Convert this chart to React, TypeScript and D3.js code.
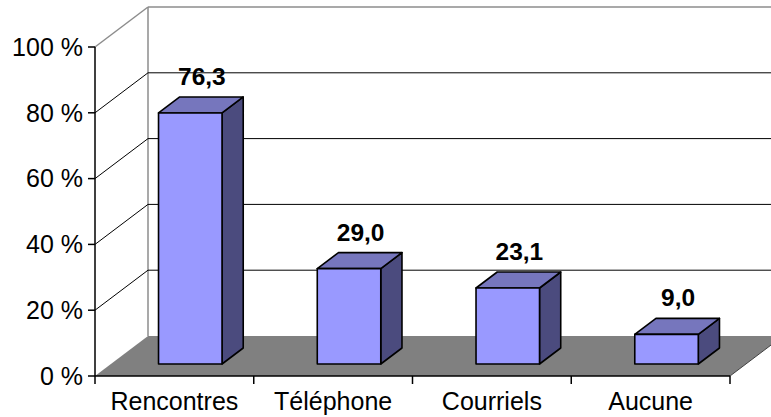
import React from "react";
import * as d3 from "d3";

const categories = ["Rencontres", "Téléphone", "Courriels", "Aucune"];
const values = [76.3, 29.0, 23.1, 9.0];
const valueLabels = ["76,3", "29,0", "23,1", "9,0"];
const yTicks = [0, 20, 40, 60, 80, 100];
const yTickLabels = ["0 %", "20 %", "40 %", "60 %", "80 %", "100 %"];

const W = 771;
const H = 417;
const DX = 53;
const DY = -40;
const FONT = "'Liberation Sans', Arial, sans-serif";

export default function App() {
  const x = d3
    .scaleBand<string>()
    .domain(categories)
    .range([95, 730])
    .paddingInner(0.6)
    .paddingOuter(0.3);
  const y = d3.scaleLinear().domain([0, 100]).range([376, 47]);
  const step = x.step();
  const x0 = 95;
  const x1 = 730;

  const P = (px: number, v: number, d: number): [number, number] => [
    px + DX * d,
    y(v) + DY * d,
  ];
  const poly = (pts: [number, number][]) => pts.map((p) => p.join(",")).join(" ");

  const dF = 0.3;
  const dB = 0.7;

  return (
    <svg
      width={W}
      height={H}
      style={{ position: "absolute", left: 0, top: 0, background: "#fff" }}
      fontFamily={FONT}
    >
      {/* floor */}
      <polygon
        points={poly([P(x0, 0, 0), P(x1, 0, 0), P(x1, 0, 1), P(x0, 0, 1)])}
        fill="#808080"
      />
      <line
        x1={P(x1, 0, 0)[0]}
        y1={P(x1, 0, 0)[1]}
        x2={P(x1, 0, 1)[0]}
        y2={P(x1, 0, 1)[1]}
        stroke="#404040"
        strokeWidth={1}
      />
      {/* back wall edge */}
      <line
        x1={P(x0, 0, 1)[0]}
        y1={P(x0, 0, 1)[1]}
        x2={P(x0, 100, 1)[0]}
        y2={P(x0, 100, 1)[1]}
        stroke="#8c8c8c"
        strokeWidth={1.5}
      />
      {/* gridlines */}
      {yTicks
        .filter((t) => t > 0)
        .map((t) => {
          const a = P(x0, t, 0);
          const b = P(x0, t, 1);
          const top = t === 100;
          return (
            <g key={t}>
              <line
                x1={a[0]}
                y1={a[1]}
                x2={b[0]}
                y2={b[1]}
                stroke={top ? "#8c8c8c" : "#000"}
                strokeWidth={top ? 1.5 : 1}
              />
              <line
                x1={b[0]}
                y1={b[1]}
                x2={W + 20}
                y2={b[1]}
                stroke={top ? "#8c8c8c" : "#000"}
                strokeWidth={top ? 1.5 : 1}
              />
            </g>
          );
        })}
      {/* bars */}
      {categories.map((c, i) => {
        const bx0 = x(c)!;
        const bx1 = bx0 + x.bandwidth();
        const v = values[i];
        const front = [P(bx0, 0, dF), P(bx1, 0, dF), P(bx1, v, dF), P(bx0, v, dF)];
        const side = [P(bx1, 0, dF), P(bx1, 0, dB), P(bx1, v, dB), P(bx1, v, dF)];
        const topF = [P(bx0, v, dF), P(bx1, v, dF), P(bx1, v, dB), P(bx0, v, dB)];
        const lab = P((bx0 + bx1) / 2, v, 0.5);
        return (
          <g key={c} stroke="#000" strokeWidth={1.6} strokeLinejoin="round">
            <polygon points={poly(side)} fill="#4b4b7e" />
            <polygon points={poly(topF)} fill="#7676bd" />
            <polygon points={poly(front)} fill="#9999ff" />
            <text
              x={lab[0] + 1}
              y={lab[1] - 20}
              textAnchor="middle"
              fontWeight="bold"
              fontSize={24.5}
              fill="#000"
              stroke="none"
            >
              {valueLabels[i]}
            </text>
          </g>
        );
      })}
      {/* axes */}
      <line x1={x0} y1={y(0)} x2={x0} y2={y(100)} stroke="#000" strokeWidth={1.5} />
      <line x1={x0} y1={y(0)} x2={x1} y2={y(0)} stroke="#000" strokeWidth={1.5} />
      {yTicks.map((t, i) => (
        <g key={t}>
          <line x1={x0 - 7} y1={y(t)} x2={x0} y2={y(t)} stroke="#000" strokeWidth={1.5} />
          <text
            x={83}
            y={y(t)}
            dy="0.35em"
            textAnchor="end"
            fontSize={25}
            fill="#000"
          >
            {yTickLabels[i]}
          </text>
        </g>
      ))}
      {d3.range(categories.length + 1).map((i) => (
        <line
          key={i}
          x1={x0 + i * step}
          y1={y(0)}
          x2={x0 + i * step}
          y2={y(0) + 8}
          stroke="#000"
          strokeWidth={1.5}
        />
      ))}
      {categories.map((c) => (
        <text
          key={c}
          x={x(c)! + x.bandwidth() / 2}
          y={410}
          textAnchor="middle"
          fontSize={25}
          fill="#000"
        >
          {c}
        </text>
      ))}
    </svg>
  );
}
